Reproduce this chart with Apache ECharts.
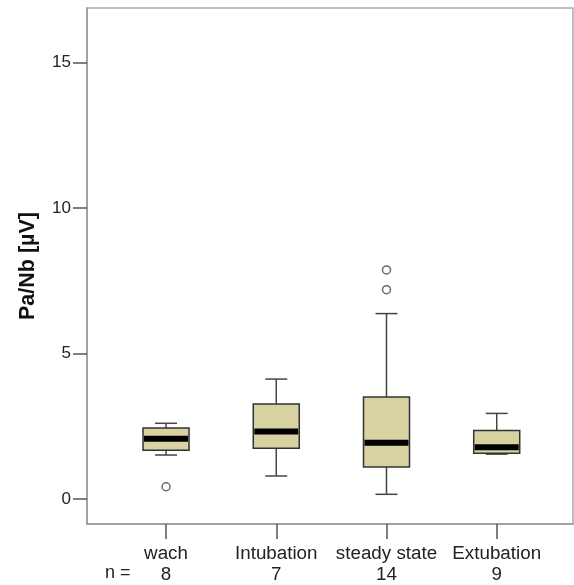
<!DOCTYPE html>
<html style="height: 100%">
<head>
    <meta charset="utf-8">
</head>
<body style="height: 100%; margin: 0">
<div id="container" style="height: 100%"></div>
<script type="text/javascript" src="https://cdn.jsdelivr.net/npm/echarts@6/dist/echarts.min.js"></script>
<script type="text/javascript">
    // values
    var categories = ['wach', 'Intubation', 'steady state', 'Extubation'];
    var counts = [8, 7, 14, 9];
    var lowerWhisker = [1.51, 0.79, 0.16, 1.54];
    var q1 = [1.67, 1.74, 1.10, 1.57];
    var median = [2.07, 2.32, 1.93, 1.78];
    var q3 = [2.44, 3.26, 3.50, 2.35];
    var upperWhisker = [2.60, 4.12, 6.37, 2.94];
    var outliers = [[1, 0.42], [3, 7.19], [3, 7.87]];
    var yTicks = [0, 5, 10, 15];

    var dom = document.getElementById("container");
    var myChart = echarts.init(dom);

    var boxData = [];
    for (var i = 0; i < categories.length; i++) {
        boxData.push([i + 1, lowerWhisker[i], q1[i], median[i], q3[i], upperWhisker[i]]);
    }

    var lineCol = '#444';

    function renderBox(params, api) {
        var x = api.value(0);
        var pLow = api.coord([x, api.value(1)]);
        var pQ1 = api.coord([x, api.value(2)]);
        var pMed = api.coord([x, api.value(3)]);
        var pQ3 = api.coord([x, api.value(4)]);
        var pHigh = api.coord([x, api.value(5)]);
        var cx = pMed[0];
        var hb = 23, hc = 11;
        var ws = {stroke: lineCol, lineWidth: 1.5};
        return {
            type: 'group',
            children: [
                {type: 'line', shape: {x1: cx, y1: pHigh[1], x2: cx, y2: pQ3[1]}, style: ws},
                {type: 'line', shape: {x1: cx - hc, y1: pHigh[1], x2: cx + hc, y2: pHigh[1]}, style: ws},
                {type: 'line', shape: {x1: cx, y1: pQ1[1], x2: cx, y2: pLow[1]}, style: ws},
                {type: 'line', shape: {x1: cx - hc, y1: pLow[1], x2: cx + hc, y2: pLow[1]}, style: ws},
                {
                    type: 'rect',
                    shape: {x: cx - hb, y: pQ3[1], width: hb * 2, height: pQ1[1] - pQ3[1]},
                    style: {fill: '#d8d1a2', stroke: '#333', lineWidth: 1.5}
                },
                {
                    type: 'rect',
                    shape: {x: cx - hb + 1, y: pMed[1] - 3, width: hb * 2 - 2, height: 6},
                    style: {fill: '#000'}
                }
            ]
        };
    }

    var option = {
        animation: false,
        backgroundColor: '#fff',
        grid: {
            left: 87, right: 1, top: 8, bottom: 61,
            show: true, borderColor: '#aaa', borderWidth: 1.5
        },
        xAxis: {
            type: 'value',
            min: 0.283,
            max: 4.692,
            splitLine: {show: false},
            axisLine: {show: true, onZero: false, lineStyle: {color: '#999', width: 1.5}},
            axisTick: {show: true, customValues: [1, 2, 3, 4], length: 15, inside: false,
                lineStyle: {color: '#555', width: 1.5}},
            axisLabel: {
                customValues: [1, 2, 3, 4],
                margin: 19,
                fontSize: 18.8,
                lineHeight: 21,
                color: '#222',
                fontFamily: 'Liberation Sans',
                formatter: function (v) {
                    var k = Math.round(v) - 1;
                    return categories[k] + '\n' + counts[k];
                }
            }
        },
        yAxis: {
            type: 'value',
            min: -0.86,
            max: 16.87,
            name: 'Pa/Nb [µV]',
            nameLocation: 'middle',
            nameGap: 48,
            nameTextStyle: {fontSize: 21.5, fontWeight: 'bold', color: '#111', fontFamily: 'Liberation Sans'},
            splitLine: {show: false},
            axisLine: {show: true, lineStyle: {color: '#999', width: 1.5}},
            axisTick: {show: true, customValues: yTicks, length: 14, lineStyle: {color: '#555', width: 1.5}},
            axisLabel: {
                customValues: yTicks,
                margin: 16,
                fontSize: 17,
                color: '#222',
                fontFamily: 'Liberation Sans'
            }
        },
        graphic: [{
            type: 'text',
            left: 105,
            top: 564,
            style: {text: 'n =', fontSize: 18, fill: '#222', fontFamily: 'Liberation Sans'}
        }],
        series: [
            {
                type: 'custom',
                renderItem: renderBox,
                data: boxData,
                encode: {x: 0, y: [1, 2, 3, 4, 5]},
                z: 2
            },
            {
                type: 'scatter',
                data: outliers,
                symbol: 'circle',
                symbolSize: 8,
                itemStyle: {color: '#fff', borderColor: '#444', borderWidth: 1.5},
                z: 3
            }
        ]
    };

    if (option && typeof option === "object") {
        myChart.setOption(option, true);
    }
</script>
</body>
</html>
